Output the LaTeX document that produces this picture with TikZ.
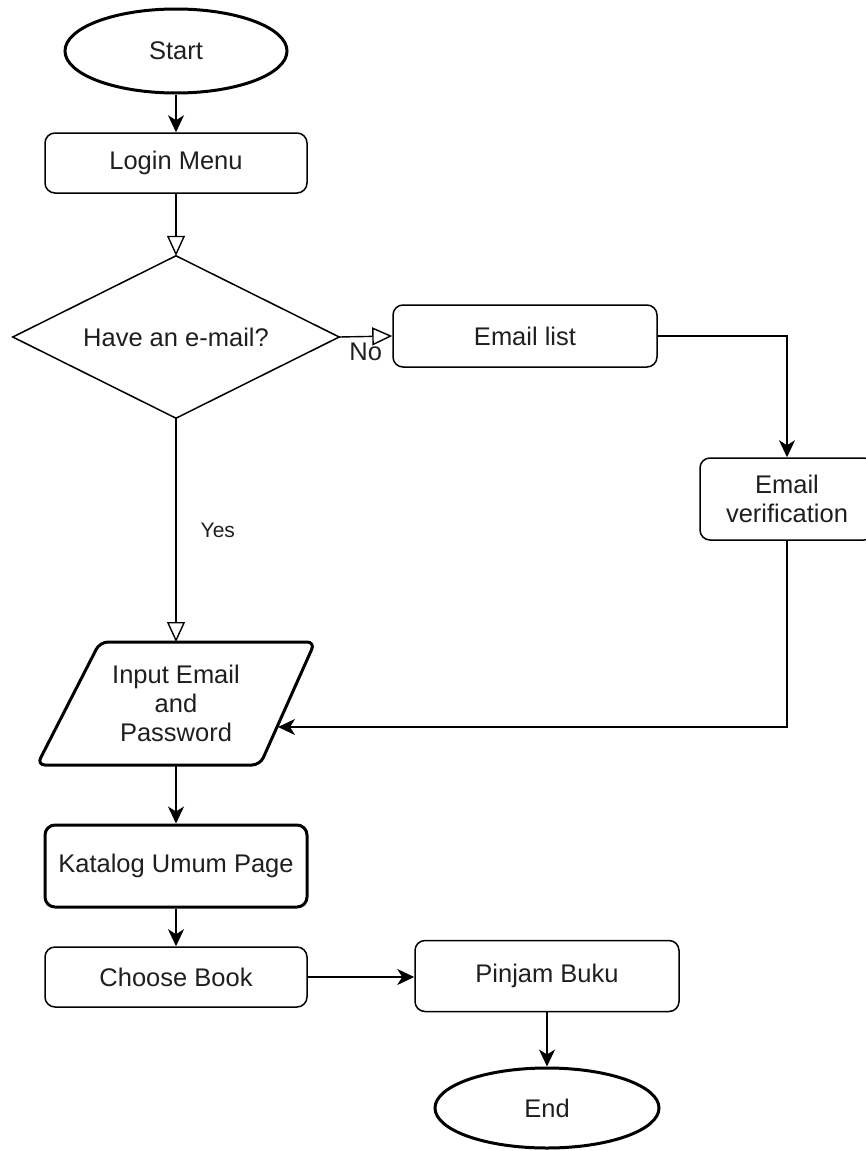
\documentclass[tikz,border=0pt]{standalone}
\usepackage{fontspec}
\setmainfont{Liberation Sans}
\usetikzlibrary{arrows.meta,shapes.geometric}
\begin{document}
\begin{tikzpicture}[x=1pt,y=-1pt,
 base/.style={font=\fontsize{25.5}{29}\selectfont, text=black!88, align=center},
 box/.style={base, draw, line width=1.5pt, rounded corners=10pt, inner sep=0pt},
 thickbox/.style={box, line width=3pt},
 term/.style={base, draw, ellipse, line width=3pt, inner sep=0pt},
 plain/.style={base, inner sep=0pt},
 arr/.style={line width=1.6pt, -{Stealth[length=17pt,width=16pt,inset=5pt]}},
 oarr/.style={line width=1.4pt, -{Triangle[open,length=20pt,width=18pt]}},
 lbl/.style={base, inner sep=0pt}
]
\useasboundingbox (0,0) rectangle (865,1151);
% nodes
\node[term, minimum width=222pt, minimum height=84pt] (start) at (176,51) {Start};
\node[box, minimum width=262pt, minimum height=60pt] (login) at (176,163) {Login Menu};
\node[plain, minimum width=326pt, minimum height=162pt] (dec) at (176,337) {Have an e-mail?};
\draw[line width=1.5pt] (dec.north) -- (dec.east) -- (dec.south) -- (dec.west) -- cycle;
\node[box, minimum width=264pt, minimum height=62pt] (elist) at (525,336) {Email list};
\node[box, minimum width=174pt, minimum height=82pt] (ever) at (787,499) {Email\\verification};
\node[plain, minimum width=220pt, minimum height=123pt] (inp) at (176,703) {Input Email\\and\\Password};
\draw[line width=3pt, rounded corners=8pt] (100,642) -- (315,642) -- (260,765) -- (37,765) -- cycle;
\coordinate (inr) at (278,727);
\node[thickbox, minimum width=262pt, minimum height=82pt] (kat) at (176,866) {Katalog Umum Page};
\node[box, minimum width=262pt, minimum height=60pt] (choose) at (176,977) {Choose Book};
\node[box, minimum width=264pt, minimum height=71pt] (pinjam) at (547,976) {Pinjam Buku};
\node[term, minimum width=224pt, minimum height=80pt] (end) at (547,1108) {End};
% connectors
\draw[arr] (start.south) -- (login.north);
\draw[oarr] (login.south) -- (dec.north);
\draw[oarr] (dec.east) -- (elist.west) node[lbl, pos=0.5, below=6pt] (no) {No};
\draw[arr] (elist.east) -| (ever.north);
\draw[oarr] (dec.south) -- (176,642) node[lbl, pos=0.5, right=24pt, font=\fontsize{21}{25}\selectfont] (yes) {Yes};
\draw[arr] (ever.south) |- (inr);
\draw[arr] (inp.south) -- (kat.north);
\draw[arr] (kat.south) -- (choose.north);
\draw[arr] (choose.east) -- (choose.east -| pinjam.west);
\draw[arr] (pinjam.south) -- (end.north);
\end{tikzpicture}
\end{document}
